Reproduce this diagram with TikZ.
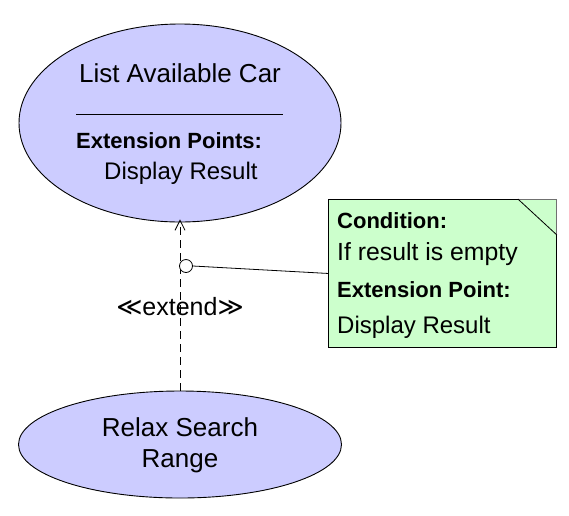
\documentclass[tikz,border=0pt]{standalone}
\usepackage{fontspec}
\setmainfont{Liberation Sans}
\newfontfamily\symfont{DejaVu Sans}
\usetikzlibrary{shapes.geometric,arrows.meta}
\definecolor{ucfill}{HTML}{CCCCFF}
\definecolor{notefill}{HTML}{CCFFCC}
\definecolor{foldgray}{HTML}{707070}
\tikzset{
  usecase/.style={ellipse, draw=black, fill=ucfill, line width=0.9pt, inner sep=0pt},
  titletxt/.style={inner sep=0pt, font=\fontsize{26}{30}\selectfont},
  bodytxt/.style={inner sep=0pt, font=\fontsize{24}{28}\selectfont},
  notetxt/.style={inner sep=0pt, font=\fontsize{24.8}{28}\selectfont},
  boldtxt/.style={inner sep=0pt, font=\fontsize{22}{26}\selectfont\bfseries},
  notebox/.style={draw=black, fill=notefill, line width=0.9pt},
  conn/.style={draw=black, line width=0.8pt},
}
\begin{document}
\begin{tikzpicture}[x=1pt,y=-1pt]
\useasboundingbox (0,0) rectangle (569,515);
% use cases
\node[usecase, minimum width=322pt, minimum height=198pt] (list) at (180,123) {};
\node[usecase, minimum width=323pt, minimum height=107pt] (relax) at (180,444.5) {};
% top use case text
\node[titletxt, anchor=base] (t1) at (180,82) {List Available Car};
\coordinate (sepL) at (76,114);
\coordinate (sepR) at (283,114);
\draw[conn] (sepL) -- (sepR);
\node[boldtxt, anchor=base west] (t2) at (76,148) {Extension Points:};
\node[bodytxt, anchor=base west] (t3) at (104,179) {Display Result};
% bottom use case text
\node[titletxt, anchor=base] (r1) at (180,436) {Relax Search};
\node[titletxt, anchor=base] (r2) at (180,467) {Range};
% extend dependency
\draw[conn, dash pattern=on 8pt off 5pt, -{Straight Barb[length=10pt,width=10pt,line width=0.8pt]}] (relax.north) -- ([yshift=3pt]list.south);
\node[inner sep=0pt, anchor=base, font=\fontsize{25}{30}\selectfont] (ext) at (180,315) {{\symfont ≪}extend{\symfont ≫}};
% note
\node[notebox, minimum width=228pt, minimum height=148pt, inner sep=0pt, anchor=north west] (note) at (328,199) {};
\coordinate (foldA) at ([xshift=-39pt]note.north east);
\coordinate (foldB) at ([yshift=-36pt]note.north east);
\draw[foldgray, line width=0.9pt] (foldA) -- (note.north east) -- (foldB);
\draw[conn] (foldA) -- (foldB);
\node[boldtxt, anchor=base west] (n1) at (337,228) {Condition:};
\node[notetxt, anchor=base west] (n2) at (337,260) {If result is empty};
\node[boldtxt, anchor=base west] (n3) at (337,297) {Extension Point:};
\node[bodytxt, anchor=base west] (n4) at (337,333) {Display Result};
% anchor circle and link
\node[circle, draw=black, fill=white, line width=0.8pt, minimum size=13pt, inner sep=0pt] (anch) at (186,266) {};
\draw[conn] (anch.east) -- (note.west);
\end{tikzpicture}
\end{document}
